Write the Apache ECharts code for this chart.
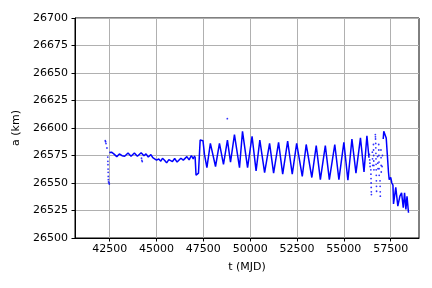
<!DOCTYPE html>
<html>
<head>
<meta charset="utf-8">
<script src="https://cdn.jsdelivr.net/npm/echarts/dist/echarts.min.js"></script>
<style>
html,body{margin:0;padding:0;background:#fff;}
#chart{width:432px;height:288px;}
</style>
</head>
<body>
<div id="chart"></div>
<script>
// ---- data ----
const xTicks = [42500, 45000, 47500, 50000, 52500, 55000, 57500];

// early scattered points
const tEarly = [42265, 42285, 42305, 42355, 42400, 42405, 42410, 42415, 42420, 42425, 42430, 42440, 42470, 42480];
const aEarly = [26588.5, 26587.5, 26585.8, 26581.8, 26573.6, 26569.7, 26566.7, 26562.7, 26559.7, 26556.0, 26553.0, 26551.0, 26550.0, 26549.0];

// slow small-amplitude part
const tWavy = [42480, 42600, 42720, 42880, 43020, 43160, 43300, 43480, 43640, 43820, 43980, 44180, 44330, 44440, 44560, 44700, 44800, 44900, 45000, 45120, 45230, 45320, 45440, 45540, 45660, 45760, 45850, 45970, 46100, 46200, 46300, 46430, 46520, 46620, 46740, 46860, 46960, 47040];
const aWavy = [26577.8, 26578.0, 26576.5, 26574.0, 26576.4, 26574.8, 26574.3, 26577.2, 26574.3, 26577.3, 26574.3, 26577.5, 26574.8, 26576.5, 26573.6, 26575.8, 26573.0, 26574.5, 26570.8, 26571.8, 26569.8, 26572.5, 26570.5, 26568.3, 26571.2, 26569.5, 26569.5, 26572.3, 26569.0, 26569.5, 26572.5, 26570.8, 26570.8, 26574.0, 26571.0, 26575.0, 26572.0, 26574.8];

// stray points
const tStray = [44200, 44220, 44240, 48780];
const aStray = [26572.5, 26570.5, 26569.5, 26608.5];

// large oscillations (peaks and troughs with their short flat tops)
const tOsc = [47060, 47110, 47200, 47240, 47330, 47400, 47480, 47560,
  47690, 47760, 47875, 47945, 48150, 48210, 48360, 48430, 48575, 48640, 48785, 48855,
  48950, 49015, 49160, 49230, 49430, 49495, 49590, 49660, 49860, 49925, 50100, 50170,
  50315, 50380, 50515, 50590, 50770, 50835, 51035, 51105, 51250, 51320, 51515, 51590,
  51735, 51800, 52000, 52070, 52245, 52310, 52480, 52555, 52780, 52845, 52990, 53065,
  53290, 53355, 53525, 53600, 53745, 53810, 54010, 54080, 54225, 54290, 54515, 54590,
  54735, 54800, 55000, 55070, 55215, 55285, 55430, 55500, 55645, 55710, 55885, 55955,
  56075, 56140, 56230, 56300, 56340];
const aOsc = [26574, 26557, 26556.5, 26559, 26589, 26590, 26588.5, 26576,
  26564, 26564, 26586, 26586, 26565, 26565, 26586, 26586, 26567, 26567, 26589, 26589,
  26569, 26569, 26594, 26594, 26564, 26564, 26597, 26597, 26564, 26564, 26592.5, 26592.5,
  26561, 26561, 26589, 26589, 26559.5, 26559.5, 26586, 26586, 26559, 26559, 26587, 26587,
  26558, 26558, 26588, 26588, 26558, 26558, 26586, 26586, 26556, 26556, 26585, 26585,
  26555, 26555, 26584, 26584, 26553, 26553, 26584, 26584, 26553, 26553, 26585, 26585,
  26553, 26553, 26587, 26587, 26552.5, 26552.5, 26590, 26590, 26559, 26559, 26591, 26591,
  26560, 26560, 26593, 26593, 26573];

// sparse scattered region
const tSparse = [56360, 56380, 56390, 56400, 56440, 56445, 56450, 56455, 56460, 56465, 56470,
  56520, 56530, 56540, 56580, 56585, 56590, 56595, 56600, 56605,
  56680, 56685, 56690, 56700, 56705, 56710, 56715, 56720, 56725, 56730, 56735, 56740, 56745,
  56800, 56810, 56820, 56860, 56865, 56870, 56875, 56880, 56885, 56930, 56935, 56940, 56945,
  56980, 56985, 56990, 56995, 57040, 57060];
const aSparse = [26576, 26571, 26568, 26565, 26562, 26558, 26554, 26550, 26546, 26542, 26539.5,
  26578, 26572, 26566, 26585, 26580, 26575, 26570, 26566, 26562,
  26594, 26592, 26590, 26586, 26582, 26577, 26572, 26567, 26562, 26557, 26552, 26547, 26542.5,
  26574, 26568, 26563, 26585, 26580, 26575, 26569, 26563, 26557, 26552, 26547, 26542, 26538,
  26580, 26573, 26566, 26560, 26565, 26575];

// final part
const tTail = [57100, 57130, 57210, 57260, 57380, 57420, 57500, 57560, 57620, 57650, 57700, 57770, 57880, 57990, 58080, 58170, 58240, 58310, 58370, 58450];
const aTail = [26590, 26597, 26597, 26591, 26560, 26553, 26555, 26550, 26548, 26531, 26531, 26546, 26529, 26538, 26541, 26527.5, 26541, 26526, 26538, 26523];

// ---- chart ----
function zip(t, a) { return t.map((v, i) => [v, a[i]]); }
const FONT = 'DejaVu Sans';
const BLUE = '#0000ff';
const chart = echarts.init(document.getElementById('chart'), null, {renderer: 'canvas'});

const lineSeries = (t, a) => ({
  type: 'line', data: zip(t, a), symbol: 'none', showSymbol: false,
  lineStyle: {color: BLUE, width: 1.5}, z: 5, silent: true
});
const dotSeries = (t, a) => ({
  type: 'scatter', data: zip(t, a), symbolSize: 1.8,
  itemStyle: {color: BLUE}, z: 6, silent: true
});

chart.setOption({
  animation: false,
  backgroundColor: '#fff',
  grid: {left: 75, right: 13, top: 18, bottom: 50, show: true, borderColor: '#000', borderWidth: 1, backgroundColor: 'transparent'},
  xAxis: {
    type: 'value', min: 40650, max: 59010,
    axisLine: {show: true, lineStyle: {color: '#000', width: 1}},
    axisTick: {show: true, length: 3.5, lineStyle: {color: '#000'}, customValues: xTicks},
    axisLabel: {customValues: xTicks, color: '#000', fontSize: 11, fontFamily: FONT, margin: 6, formatter: v => String(v)},
    splitLine: {show: true, lineStyle: {color: '#b0b0b0', width: 1}},
    name: 't (MJD)', nameLocation: 'middle', nameGap: 24,
    nameTextStyle: {color: '#000', fontSize: 11, fontFamily: FONT}
  },
  yAxis: {
    type: 'value', min: 26500, max: 26700, interval: 25,
    axisLine: {show: true, lineStyle: {color: '#000', width: 1}},
    axisTick: {show: true, length: 3.5, lineStyle: {color: '#000'}},
    axisLabel: {color: '#000', fontSize: 11, fontFamily: FONT, margin: 7, formatter: v => String(v)},
    splitLine: {show: true, lineStyle: {color: '#b0b0b0', width: 1}},
    name: 'a (km)', nameLocation: 'middle', nameGap: 50, nameRotate: 90,
    nameTextStyle: {color: '#000', fontSize: 11, fontFamily: FONT}
  },
  series: [
    dotSeries(tEarly, aEarly),
    lineSeries(tWavy, aWavy),
    dotSeries(tStray, aStray),
    lineSeries(tOsc, aOsc),
    dotSeries(tSparse, aSparse),
    lineSeries(tTail, aTail)
  ]
});
</script>
</body>
</html>
